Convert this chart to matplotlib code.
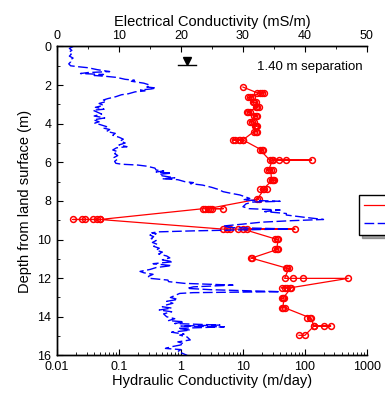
import numpy as np
import matplotlib
matplotlib.use("Agg")
import matplotlib.pyplot as plt
from matplotlib.ticker import LogLocator, MultipleLocator, NullFormatter, FixedLocator

plt.rcParams['font.family'] = ['Liberation Sans', 'DejaVu Sans']

# hydraulic conductivity (m/day) vs depth (m), several readings per depth
k_depth = ([2.1] + [2.4] * 4 + [2.63] * 3 + [2.9] * 3 + [3.12] * 3 + [3.38] * 3
           + [3.6] * 3 + [3.9] * 3 + [4.12] * 3 + [4.41] * 3 + [4.84] * 6
           + [5.36] * 3 + [5.88] * 6 + [6.4] * 4 + [6.92] * 4 + [7.4] * 4
           + [7.9] * 2 + [8.4] * 6 + [8.96] * 7 + [9.46] * 7 + [9.99] * 3
           + [10.5] * 3 + [10.97] * 2 + [11.49] * 3 + [12.01] * 4 + [12.5] * 5
           + [13.05] * 3 + [13.53] * 3 + [14.05] * 3 + [14.48] * 4 + [14.96] * 2)
k_value = [10,
           17, 20, 22, 19,
           13, 14, 12,
           15, 14.5, 16,
           17, 16, 18,
           12, 13, 11.5,
           16, 17, 15,
           14, 13, 15,
           16.5, 17, 15.5,
           16, 17, 15,
           10, 8.5, 7.5, 7, 9, 10,
           20, 21, 19,
           27, 29, 38, 50, 128, 30,
           26, 24, 30, 28,
           29, 27, 32, 30,
           21, 19, 24, 22,
           17, 18,
           2.7, 3.2, 4.8, 2.9, 2.4, 2.3,
           0.05, 0.045, 0.038, 0.028, 0.025, 0.018, 0.049,
           4.8, 5.5, 6.2, 8.3, 11.6, 69, 10,
           35, 33, 37,
           35, 33, 37,
           13.5, 14,
           52, 50, 55,
           47, 64, 93, 500,
           58, 52, 42, 47, 60,
           44, 42, 46,
           44, 42, 47,
           120, 110, 125,
           140, 200, 260, 140,
           100, 80]

# electrical conductivity log (mS/m) vs depth (m)
ec_depth = [0.0, 0.1, 0.2, 0.3, 0.4, 0.5, 0.6, 0.7, 0.8, 0.9, 1.0, 1.05, 1.1, 1.2, 1.3,
            1.35, 1.4, 1.45, 1.5, 1.55, 1.6, 1.7, 1.75, 1.8, 1.85, 1.9, 2.0, 2.1, 2.15,
            2.2, 2.25, 2.3, 2.35, 2.45, 2.5, 2.6, 2.7, 2.77, 2.85, 2.95, 3.05, 3.15,
            3.25, 3.3, 3.4, 3.5, 3.6, 3.7, 3.8, 3.9, 3.97, 4.05, 4.15, 4.22, 4.3, 4.4,
            4.5, 4.6, 4.7, 4.8, 4.9, 5.0, 5.1, 5.19, 5.25, 5.36, 5.45, 5.55, 5.65,
            5.75, 5.85, 5.95, 6.05, 6.1, 6.14, 6.2, 6.3, 6.4, 6.45, 6.5, 6.56, 6.62,
            6.7, 6.8, 6.85, 6.9, 7.0, 7.05, 7.1, 7.18, 7.3, 7.4, 7.52, 7.6, 7.69, 7.8,
            7.87, 7.95, 8.02, 8.06, 8.15, 8.3, 8.4, 8.47, 8.55, 8.65, 8.73, 8.85, 8.96,
            9.02, 9.1, 9.2, 9.3, 9.38, 9.45, 9.5, 9.55, 9.6, 9.65, 9.7, 9.77, 9.85,
            9.95, 10.05, 10.15, 10.25, 10.35, 10.45, 10.55, 10.65, 10.75, 10.85,
            10.95, 11.05, 11.15, 11.25, 11.35, 11.45, 11.55, 11.65, 11.72, 11.8, 11.9,
            12.0, 12.1, 12.18, 12.27, 12.36, 12.45, 12.53, 12.6, 12.7, 12.75, 12.79,
            12.9, 13.0, 13.1, 13.2, 13.3, 13.4, 13.48, 13.55, 13.65, 13.74, 13.85,
            14.0, 14.1, 14.2, 14.26, 14.35, 14.43, 14.48, 14.52, 14.6, 14.69, 14.8,
            14.9, 14.95, 15.05, 15.2, 15.3, 15.4, 15.47, 15.55, 15.64, 15.7, 15.8,
            15.9, 16.0]
ec_value = [2.6, 2.0, 2.4, 1.9, 2.3, 2.0, 2.6, 2.1, 2.2, 1.9, 2.2, 3.5, 5.0, 6.5, 8.5,
            5.0, 3.8, 7.5, 6.0, 8.0, 9.6, 11.0, 12.5, 12.0, 13.0, 14.0, 15.0, 14.5, 16.0,
            15.2, 13.5, 14.2, 12.6, 11.5, 10.4, 9.5, 8.2, 7.5, 8.0, 6.8, 7.5, 6.2,
            7.6, 5.8, 6.5, 7.2, 6.0, 7.7, 5.9, 6.8, 6.1, 7.0, 8.0, 7.4, 8.5, 8.0,
            9.4, 9.0, 10.0, 10.7, 10.2, 11.0, 10.0, 11.3, 9.6, 9.0, 9.8, 9.3, 9.8,
            9.2, 9.7, 9.3, 9.5, 10.5, 13.0, 14.5, 15.8, 16.0, 17.2, 16.0, 18.5, 16.5,
            17.0, 19.0, 17.0, 19.5, 20.6, 22.0, 21.5, 23.5, 25.0, 26.0, 26.8, 28.0, 29.5, 30.5,
            31.1, 30.0, 36.0, 31.5, 30.5, 30.0, 31.0, 36.0, 33.5, 37.0, 37.0, 40.0, 43.0,
            38.0, 33.0, 30.0, 26.8, 28.0, 37.5, 30.0, 22.0, 16.5, 15.3, 16.0, 15.0, 15.6,
            15.2, 16.0, 15.4, 16.2, 15.6, 16.5, 16.0, 17.0, 16.4, 17.7,
            18.2, 17.0, 18.7, 15.5, 18.5, 16.0, 15.0, 13.4, 14.0, 15.5, 14.8,
            14.7, 17.9, 18.0, 20.6, 28.4, 22.0, 21.0, 25.0, 36.0, 22.0, 19.8,
            19.0, 18.3, 19.5, 17.7, 18.7, 17.5, 17.0, 18.5, 16.5, 18.5, 17.2,
            17.7, 19.0, 18.0, 20.5, 19.0, 26.3, 20.0, 27.0, 19.5, 21.5, 18.5,
            20.5, 19.8, 21.0, 21.5, 19.5, 20.5, 19.8, 18.5, 17.5, 20.0, 19.5,
            20.3, 21.0]

water_table_depth = 0.96
water_table_ec = 21.0

fig = plt.figure(figsize=(3.85, 3.94), dpi=100)
ax = fig.add_axes([0.148, 0.098, 0.805, 0.784])
ax2 = ax.twiny()

ln_k, = ax.plot(k_value, k_depth, '-', color='red', lw=0.9, marker='o',
                markersize=4.2, markerfacecolor='none', markeredgewidth=1.1,
                markeredgecolor='red', label='Hydraulic Conductivity')
ln_ec, = ax2.plot(ec_value, ec_depth, color='blue', lw=1.0, dashes=(7, 2.5),
                  label='Electrical Conductivity')

# water table symbol
ax2.plot([water_table_ec], [water_table_depth - 0.2], marker='v', color='k',
         markersize=6, linestyle='none')
ax2.plot([water_table_ec - 1.5, water_table_ec + 1.5],
         [water_table_depth, water_table_depth], color='k', lw=1)

ax.set_xscale('log')
ax.set_xlim(0.01, 1000)
ax.set_ylim(16, 0)
ax2.set_xlim(0, 50)

ax.xaxis.set_major_locator(FixedLocator([0.01, 0.1, 1, 10, 100, 1000]))
ax.set_xticklabels(['0.01', '0.1', '1', '10', '100', '1000'])
ax.xaxis.set_minor_locator(LogLocator(base=10, subs=np.arange(2, 10)))
ax.xaxis.set_minor_formatter(NullFormatter())
ax.yaxis.set_major_locator(MultipleLocator(2))
ax.yaxis.set_minor_locator(MultipleLocator(1))
ax2.xaxis.set_major_locator(MultipleLocator(10))
ax2.xaxis.set_minor_locator(MultipleLocator(5))

for a in (ax, ax2):
    a.spines['right'].set_visible(False)
    for s in ('left', 'top', 'bottom'):
        a.spines[s].set_linewidth(1.0)
ax.tick_params(which='major', direction='in', length=4, width=0.8, labelsize=9,
               pad=4, top=False, right=False)
ax.tick_params(which='minor', direction='in', length=2, width=0.6, top=False, right=False)
ax2.tick_params(which='major', direction='in', length=4, width=0.8, labelsize=9, pad=3)
ax2.tick_params(which='minor', direction='in', length=2, width=0.6)

ax.set_xlabel('Hydraulic Conductivity (m/day)', fontsize=10.5, labelpad=1)
ax.set_ylabel('Depth from land surface (m)', fontsize=10.5, labelpad=4)
ax2.set_xlabel('Electrical Conductivity (mS/m)', fontsize=10.5, labelpad=3)

ax2.text(0.985, 0.935, '1.40 m separation', transform=ax.transAxes,
         ha='right', va='center', fontsize=9.5)

leg = ax2.legend([ln_k, ln_ec], ['Hydraulic Conductivity', 'Electrical Conductivity'],
                 loc='upper left', bbox_to_anchor=(0.974, 0.519), borderaxespad=0,
                 fancybox=False, shadow=True, fontsize=9, handlelength=2.2,
                 framealpha=1)
leg.get_frame().set_edgecolor('black')
leg.get_frame().set_linewidth(1.0)
for h in leg.legend_handles:
    h.set_marker('')

fig.savefig('out.png', dpi=100)
